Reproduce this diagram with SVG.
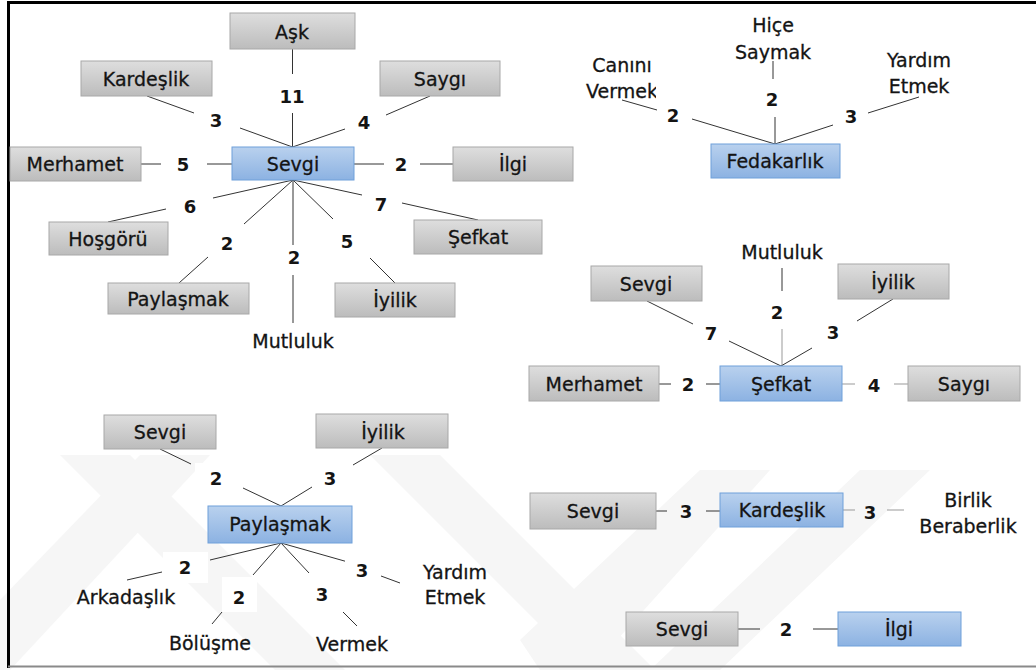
<svg xmlns="http://www.w3.org/2000/svg" width="1036" height="670" viewBox="0 0 1036 670">
  <defs>
    <linearGradient id="gray" x1="0" y1="0" x2="0" y2="1">
      <stop offset="0" stop-color="#dedede"/>
      <stop offset="1" stop-color="#bcbcbc"/>
    </linearGradient>
    <linearGradient id="blue" x1="0" y1="0" x2="0" y2="1">
      <stop offset="0" stop-color="#b9d1ee"/>
      <stop offset="1" stop-color="#8cb2e2"/>
    </linearGradient>
    <style>
      .g { fill: url(#gray); stroke: #a8a8a8; stroke-width: 1; }
      .b { fill: url(#blue); stroke: #6fa0da; stroke-width: 1; }
      text { font-family: "DejaVu Sans", "Noto Sans", sans-serif; font-size: 19px; fill: #141414; stroke: #141414; stroke-width: 0.3px; text-anchor: middle; dominant-baseline: central; }
      .n { font-weight: bold; font-size: 18px; stroke-width: 0; }
      .c line { stroke: #333; stroke-width: 1; }
      .c line.l { stroke: #999; }
      .bg { fill: #ffffff; }
      .wm { fill: #f6f6f6; }
    </style>
  </defs>

  <rect x="0" y="0" width="1036" height="670" fill="#ffffff"/>

  <!-- faint background chevrons -->
  <g id="watermark">
    <polygon class="wm" points="60,455 130,455 345,670 275,670"/>
    <polygon class="wm" points="370,455 440,455 655,670 585,670"/>
    <polygon class="wm" points="0,600 140,455 210,455 10,670 0,670"/>
    <polygon class="wm" points="520,640 700,470 770,470 590,670 540,670"/>
    <polygon class="wm" points="650,670 860,470 930,470 720,670"/>
  </g>

  <!-- frame -->
  <g id="frame">
    <line x1="7" y1="2.5" x2="1036" y2="2.5" stroke="#000" stroke-width="3"/>
    <line x1="8.5" y1="1" x2="8.5" y2="668" stroke="#000" stroke-width="3"/>
    <line x1="8" y1="666.5" x2="1036" y2="666.5" stroke="#8a8a8a" stroke-width="2"/>
  </g>

  <!-- connectors -->
  <g class="c" id="connectors">
    <!-- Sevgi cluster -->
    <line x1="292.5" y1="49" x2="292.5" y2="74"/>
    <line x1="292.5" y1="113" x2="292.5" y2="147"/>
    <line x1="147" y1="96" x2="194" y2="113"/>
    <line x1="240" y1="128" x2="292.5" y2="147"/>
    <line x1="430" y1="96" x2="386" y2="115"/>
    <line x1="345" y1="129" x2="292.5" y2="147"/>
    <line x1="141" y1="164" x2="161" y2="164"/>
    <line x1="207" y1="164" x2="232" y2="164"/>
    <line x1="354" y1="164" x2="384" y2="164"/>
    <line x1="420" y1="164" x2="453" y2="164"/>
    <line x1="293" y1="180" x2="213" y2="198"/>
    <line x1="166" y1="209" x2="108" y2="222"/>
    <line x1="293" y1="180" x2="244" y2="224"/>
    <line x1="208" y1="257" x2="179" y2="283"/>
    <line x1="293" y1="180" x2="293" y2="245"/>
    <line x1="293" y1="275" x2="293" y2="323"/>
    <line x1="293" y1="180" x2="333" y2="219"/>
    <line x1="370" y1="258" x2="395" y2="283"/>
    <line x1="293" y1="180" x2="362" y2="195"/>
    <line x1="402" y1="203" x2="478" y2="220"/>

    <!-- Fedakarlık cluster -->
    <line x1="622" y1="100" x2="657" y2="110"/>
    <line x1="692" y1="119" x2="775" y2="144"/>
    <line x1="773" y1="61" x2="773" y2="79"/>
    <line x1="775" y1="117" x2="775" y2="144"/>
    <line x1="919" y1="97" x2="868" y2="113"/>
    <line x1="833" y1="125" x2="775" y2="144"/>

    <!-- Şefkat cluster -->
    <line x1="659" y1="384" x2="671" y2="384"/>
    <line x1="706" y1="384" x2="720" y2="384"/>
    <line class="l" x1="842" y1="384" x2="855" y2="384"/>
    <line class="l" x1="894" y1="384" x2="908" y2="384"/>
    <line x1="647" y1="301" x2="693" y2="324"/>
    <line x1="729" y1="341" x2="781" y2="366"/>
    <line x1="782" y1="268" x2="782" y2="291"/>
    <line class="l" x1="782" y1="329" x2="782" y2="366"/>
    <line x1="893" y1="299" x2="857" y2="321"/>
    <line x1="812" y1="348" x2="781" y2="366"/>

    <!-- Kardeşlik row -->
    <line x1="656" y1="511" x2="667" y2="511"/>
    <line x1="706" y1="511" x2="720" y2="511"/>
    <line class="l" x1="843" y1="510" x2="855" y2="510"/>
    <line class="l" x1="887" y1="510" x2="904" y2="510"/>

    <!-- İlgi row -->
    <line x1="738" y1="629" x2="760" y2="629"/>
    <line x1="813" y1="629" x2="838" y2="629"/>

    <!-- Paylaşmak cluster -->
    <line x1="160" y1="449" x2="191" y2="464"/>
    <line x1="243" y1="488" x2="281" y2="506"/>
    <line x1="382" y1="448" x2="353" y2="465"/>
    <line x1="312" y1="487" x2="281" y2="506"/>
    <line x1="281" y1="543" x2="210" y2="560"/>
    <line x1="162" y1="572" x2="127" y2="580"/>
    <line x1="281" y1="543" x2="253" y2="575"/>
    <line x1="222" y1="612" x2="212" y2="624"/>
    <line x1="281" y1="543" x2="309" y2="573"/>
    <line x1="343" y1="612" x2="357" y2="626"/>
    <line x1="281" y1="543" x2="355" y2="564"/>
    <line x1="381" y1="576" x2="400" y2="583"/>
  </g>

  <!-- Sevgi cluster nodes -->
  <g id="n-sevgi"><rect class="b" x="232" y="147" width="122" height="33"/><text x="293" y="164">Sevgi</text></g>
  <g id="n-ask"><rect class="g" x="230" y="13" width="125" height="36"/><text x="292" y="32">Aşk</text></g>
  <g id="n-kardeslik1"><rect class="g" x="81" y="61" width="131" height="35"/><text x="146" y="79">Kardeşlik</text></g>
  <g id="n-saygi1"><rect class="g" x="380" y="61" width="120" height="35"/><text x="440" y="79">Saygı</text></g>
  <g id="n-merhamet1"><rect class="g" x="10" y="147" width="131" height="34"/><text x="75" y="164">Merhamet</text></g>
  <g id="n-ilgi1"><rect class="g" x="453" y="147" width="120" height="34"/><text x="513" y="164">İlgi</text></g>
  <g id="n-hosgoru"><rect class="g" x="49" y="222" width="119" height="33"/><text x="108" y="239">Hoşgörü</text></g>
  <g id="n-paylasmak1"><rect class="g" x="108" y="283" width="141" height="31"/><text x="178" y="299">Paylaşmak</text></g>
  <g id="n-mutluluk1"><text x="293" y="341">Mutluluk</text></g>
  <g id="n-iyilik1"><rect class="g" x="335" y="283" width="120" height="34"/><text x="395" y="300">İyilik</text></g>
  <g id="n-sefkat1"><rect class="g" x="414" y="220" width="128" height="34"/><text x="478" y="237">Şefkat</text></g>

  <g id="w-sevgi">
    <text class="n" x="292" y="96">11</text>
    <text class="n" x="216" y="120">3</text>
    <text class="n" x="364" y="122">4</text>
    <text class="n" x="183" y="164">5</text>
    <text class="n" x="401" y="164">2</text>
    <text class="n" x="190" y="206">6</text>
    <text class="n" x="227" y="243">2</text>
    <text class="n" x="294" y="257">2</text>
    <text class="n" x="347" y="241">5</text>
    <text class="n" x="381" y="204">7</text>
  </g>

  <!-- Fedakarlık cluster -->
  <g id="n-fedakarlik"><rect class="b" x="711" y="144" width="129" height="34"/><text x="775" y="161">Fedakarlık</text></g>
  <g id="n-canini"><text x="622" y="65">Canını</text><text x="622" y="91">Vermek</text></g>
  <g id="n-hice"><text x="773" y="25">Hiçe</text><text x="773" y="52">Saymak</text></g>
  <g id="n-yardim1"><text x="919" y="60">Yardım</text><text x="919" y="86">Etmek</text></g>
  <g id="w-fedakarlik">
    <rect class="bg" x="656" y="78" width="34" height="30"/>
    <text class="n" x="673" y="115">2</text>
    <text class="n" x="772" y="99">2</text>
    <text class="n" x="851" y="116">3</text>
  </g>

  <!-- Şefkat cluster -->
  <g id="n-sefkat2"><rect class="b" x="720" y="366" width="122" height="35"/><text x="781" y="384">Şefkat</text></g>
  <g id="n-merhamet2"><rect class="g" x="529" y="366" width="130" height="35"/><text x="594" y="384">Merhamet</text></g>
  <g id="n-saygi2"><rect class="g" x="908" y="366" width="112" height="35"/><text x="964" y="384">Saygı</text></g>
  <g id="n-sevgi2"><rect class="g" x="591" y="266" width="111" height="35"/><text x="646" y="284">Sevgi</text></g>
  <g id="n-mutluluk2"><text x="782" y="252">Mutluluk</text></g>
  <g id="n-iyilik2"><rect class="g" x="838" y="264" width="111" height="35"/><text x="893" y="282">İyilik</text></g>
  <g id="w-sefkat">
    <text class="n" x="688" y="384">2</text>
    <text class="n" x="874" y="385">4</text>
    <text class="n" x="711" y="333">7</text>
    <text class="n" x="777" y="312">2</text>
    <text class="n" x="833" y="332">3</text>
  </g>

  <!-- Kardeşlik row -->
  <g id="n-kardeslik2"><rect class="b" x="720" y="493" width="123" height="34"/><text x="782" y="510">Kardeşlik</text></g>
  <g id="n-sevgi3"><rect class="g" x="530" y="493" width="126" height="36"/><text x="593" y="511">Sevgi</text></g>
  <g id="n-birlik"><text x="968" y="500">Birlik</text><text x="968" y="526">Beraberlik</text></g>
  <g id="w-kardeslik">
    <text class="n" x="686" y="511">3</text>
    <text class="n" x="870" y="512">3</text>
  </g>

  <!-- İlgi row -->
  <g id="n-ilgi2"><rect class="b" x="838" y="612" width="123" height="34"/><text x="899" y="629">İlgi</text></g>
  <g id="n-sevgi4"><rect class="g" x="626" y="612" width="112" height="34"/><text x="682" y="629">Sevgi</text></g>
  <g id="w-ilgi"><text class="n" x="786" y="629">2</text></g>

  <!-- Paylaşmak cluster -->
  <g id="n-paylasmak2"><rect class="b" x="208" y="506" width="144" height="37"/><text x="280" y="524">Paylaşmak</text></g>
  <g id="n-sevgi5"><rect class="g" x="104" y="415" width="112" height="34"/><text x="160" y="432">Sevgi</text></g>
  <g id="n-iyilik3"><rect class="g" x="316" y="414" width="132" height="34"/><text x="383" y="432">İyilik</text></g>
  <g id="n-arkadaslik"><text x="126" y="597">Arkadaşlık</text></g>
  <g id="n-bolusme"><text x="210" y="643">Bölüşme</text></g>
  <g id="n-vermek"><text x="352" y="644">Vermek</text></g>
  <g id="n-yardim2"><text x="455" y="572">Yardım</text><text x="455" y="597">Etmek</text></g>
  <g id="w-paylasmak">
    <rect class="bg" x="195" y="463" width="42" height="30"/>
    <text class="n" x="216" y="478">2</text>
    <rect class="bg" x="317" y="465" width="36" height="32"/>
    <text class="n" x="330" y="478">3</text>
    <rect class="bg" x="163" y="552" width="45" height="31"/>
    <text class="n" x="185" y="567">2</text>
    <rect class="bg" x="222" y="577" width="35" height="35"/>
    <text class="n" x="239" y="597">2</text>
    <rect class="bg" x="297" y="575" width="46" height="36"/>
    <text class="n" x="322" y="594">3</text>
    <rect class="bg" x="345" y="557" width="36" height="28"/>
    <text class="n" x="362" y="570">3</text>
  </g>
</svg>
